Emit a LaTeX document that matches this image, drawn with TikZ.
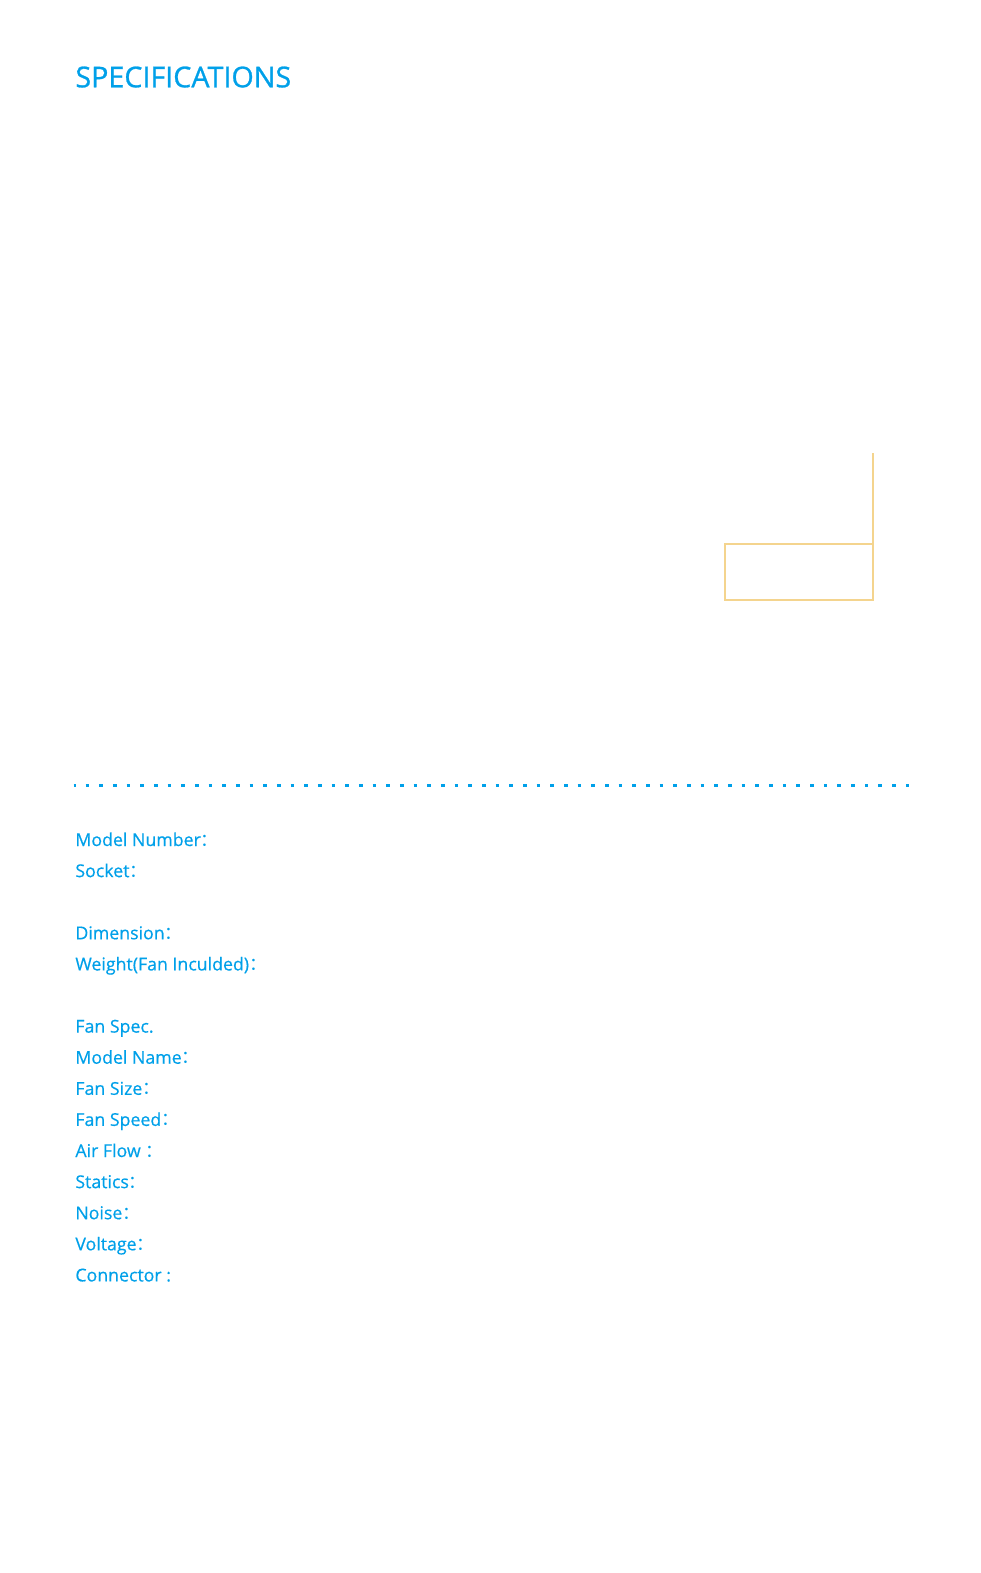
\documentclass[tikz,border=0pt]{standalone}
\usepackage{fontspec}
\setmainfont{Open Sans}[FakeBold=0.5]
\newfontfamily\cjkcolon{Noto Sans CJK SC}
\newfontfamily\titlefont{Open Sans}[FakeBold=0.9]
\definecolor{specblue}{HTML}{00A0E9}
\definecolor{leadyellow}{HTML}{F4D48E}
\newcommand{\cc}{{\cjkcolon ：}}
\tikzset{
  speclabel/.style={anchor=base west,inner sep=0pt,text=specblue,font=\fontsize{17.8}{20}\selectfont},
  spectitle/.style={anchor=base west,inner sep=0pt,text=specblue,font=\titlefont\fontsize{28.8}{32}\selectfont},
  leadline/.style={draw=leadyellow,line width=1.6bp},
}
\begin{document}
\begin{tikzpicture}[x=1bp,y=-1bp]
  \useasboundingbox (0,0) rectangle (980,1573);
  \node[spectitle] (title) at (75.2,87.3) {SPECIFICATIONS};
  % callout box
  \node[leadline,anchor=north west,inner sep=0pt,outer sep=0pt,minimum width=147.7bp,minimum height=56bp] (callbox) at (725,544) {};
  \coordinate (leadtop) at (callbox.north east |- 0,452.7);
  \draw[leadline] (callbox.north east) -- (leadtop);
  % dotted rule
  \coordinate (ruleleft) at (73.7,785.3);
  \coordinate (ruleright) at (909.57,785.3);
  \draw[specblue,line width=3.6bp,dash pattern=on 3.6bp off 10.07bp,dash phase=1.8bp] (ruleleft) -- (ruleright);
  % labels
  \node[speclabel] (model) at (75.2,846) {Model Number\cc};
  \node[speclabel] (socket) at (75.2,877.1) {Socket\cc};
  \node[speclabel] (dim) at (75.2,939.3) {Dimension\cc};
  \node[speclabel] (weight) at (75.2,970.4) {Weight(Fan Inculded)\cc};
  \node[speclabel] (fanspec) at (75.2,1032.6) {Fan Spec.};
  \node[speclabel] (modelname) at (75.2,1063.7) {Model Name\cc};
  \node[speclabel] (fansize) at (75.2,1094.8) {Fan Size\cc};
  \node[speclabel] (fanspeed) at (75.2,1125.9) {Fan Speed\cc};
  \node[speclabel] (airflow) at (75.2,1157) {Air Flow \cc};
  \node[speclabel] (statics) at (75.2,1188.1) {Statics\cc};
  \node[speclabel] (noise) at (75.2,1219.2) {Noise\cc};
  \node[speclabel] (voltage) at (75.2,1250.3) {Voltage\cc};
  \node[speclabel] (connector) at (75.2,1281.4) {Connector :};
\end{tikzpicture}
\end{document}
